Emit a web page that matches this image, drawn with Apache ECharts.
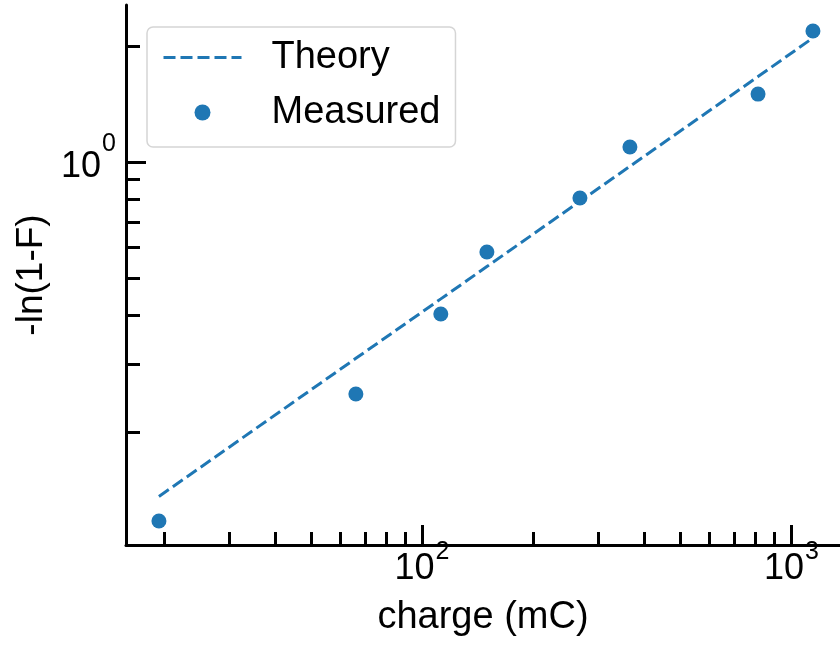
<!DOCTYPE html>
<html>
<head>
<meta charset="utf-8">
<script src="https://cdn.jsdelivr.net/npm/echarts@6/dist/echarts.min.js"></script>
<style>
    html, body { margin: 0; padding: 0; background: #fff; }
    #chart { width: 840px; height: 649px; }
</style>
</head>
<body>
<div id="chart"></div>
<script>
    // charge (mC) of each measurement
    var charge = [19.4, 66.2, 112.4, 149.8, 267.5, 365.3, 811.8, 1143];
    // -ln(1-F) measured
    var measured = [0.1175, 0.2506, 0.4038, 0.5846, 0.8067, 1.0935, 1.500, 2.185];
    // theory curve read at the same charges
    var theory = [0.136, 0.310, 0.442, 0.536, 0.791, 0.975, 1.665, 2.097];

    var xMajor = [100, 1000];
    var xMinor = [20, 30, 40, 50, 60, 70, 80, 90, 200, 300, 400, 500, 600, 700, 800, 900];
    var yMajor = [1];
    var yMinor = [0.2, 0.3, 0.4, 0.5, 0.6, 0.7, 0.8, 0.9, 2];

    var blue = '#1f77b4';
    var font = 'Liberation Sans, Arial, sans-serif';
    var dashed = {color: blue, width: 3, type: [12, 5]};

    function pairs(xs, ys) {
        var out = [];
        for (var i = 0; i < xs.length; i++) {
            out.push([xs[i], ys[i]]);
        }
        return out;
    }

    function powLabel(v) {
        var e = Math.round(Math.log10(v));
        return '{b|10}{s|' + e + '}';
    }

    // superscript is lifted with a bottom padding
    function richPow(lift) {
        return {
            b: {fontSize: 36, fontFamily: font, color: '#000', lineHeight: 36, verticalAlign: 'bottom'},
            s: {fontSize: 25, fontFamily: font, color: '#000', lineHeight: 25, verticalAlign: 'bottom', padding: [0, 0, lift, 1]}
        };
    }

    var myChart = echarts.init(document.getElementById('chart'));
    var option = {
        animation: false,
        backgroundColor: '#fff',
        grid: {left: 126, right: 0, top: 5, bottom: 104, containLabel: false, outerBoundsMode: 'none'},
        legend: {
            orient: 'vertical',
            left: 147,
            top: 27,
            padding: [10, 15, 14, 15],
            itemGap: 14,
            itemWidth: 78,
            itemHeight: 16,
            backgroundColor: '#fff',
            borderColor: '#d5d5d5',
            borderWidth: 1.5,
            borderRadius: 6,
            textStyle: {fontSize: 38, fontFamily: font, color: '#000', padding: [0, 0, 0, 25], lineHeight: 41},
            data: [
                {name: 'Theory', itemStyle: {opacity: 0}, lineStyle: dashed},
                {name: 'Measured', icon: 'circle'}
            ]
        },
        xAxis: [
            {
                type: 'log',
                logBase: 10,
                min: 15.8,
                max: 1353,
                name: 'charge (mC)',
                nameLocation: 'middle',
                nameGap: 54,
                nameTextStyle: {fontSize: 38, fontFamily: font, color: '#000'},
                axisLine: {lineStyle: {color: '#000', width: 3}},
                axisTick: {inside: true, length: 20, customValues: xMajor, lineStyle: {color: '#000', width: 3}},
                axisLabel: {customValues: xMajor, margin: 6, formatter: powLabel, rich: richPow(22)},
                splitLine: {show: false}
            },
            {
                type: 'log',
                logBase: 10,
                min: 15.8,
                max: 1353,
                position: 'bottom',
                axisLine: {show: false},
                axisTick: {inside: true, length: 13, customValues: xMinor, lineStyle: {color: '#000', width: 3}},
                axisLabel: {show: false},
                splitLine: {show: false}
            }
        ],
        yAxis: [
            {
                type: 'log',
                logBase: 10,
                min: 0.1018,
                max: 2.552,
                name: '-ln(1-F)',
                nameLocation: 'middle',
                nameGap: 76,
                nameRotate: 90,
                nameTextStyle: {fontSize: 37, fontFamily: font, color: '#000'},
                axisLine: {lineStyle: {color: '#000', width: 3}},
                axisTick: {inside: true, length: 20, customValues: yMajor, lineStyle: {color: '#000', width: 3}},
                axisLabel: {customValues: yMajor, margin: 10, padding: [10, 0, 0, 0], formatter: powLabel, rich: richPow(28)},
                splitLine: {show: false}
            },
            {
                type: 'log',
                logBase: 10,
                min: 0.1018,
                max: 2.552,
                position: 'left',
                axisLine: {show: false},
                axisTick: {inside: true, length: 14, customValues: yMinor, lineStyle: {color: '#000', width: 3}},
                axisLabel: {show: false},
                splitLine: {show: false}
            }
        ],
        series: [
            {
                name: 'Theory',
                type: 'line',
                xAxisIndex: 0,
                yAxisIndex: 0,
                symbol: 'none',
                color: blue,
                lineStyle: dashed,
                data: pairs(charge, theory)
            },
            {
                name: 'Measured',
                type: 'scatter',
                xAxisIndex: 0,
                yAxisIndex: 0,
                symbolSize: 15,
                itemStyle: {color: blue, opacity: 1},
                data: pairs(charge, measured)
            }
        ]
    };
    option && myChart.setOption(option);
</script>
</body>
</html>
